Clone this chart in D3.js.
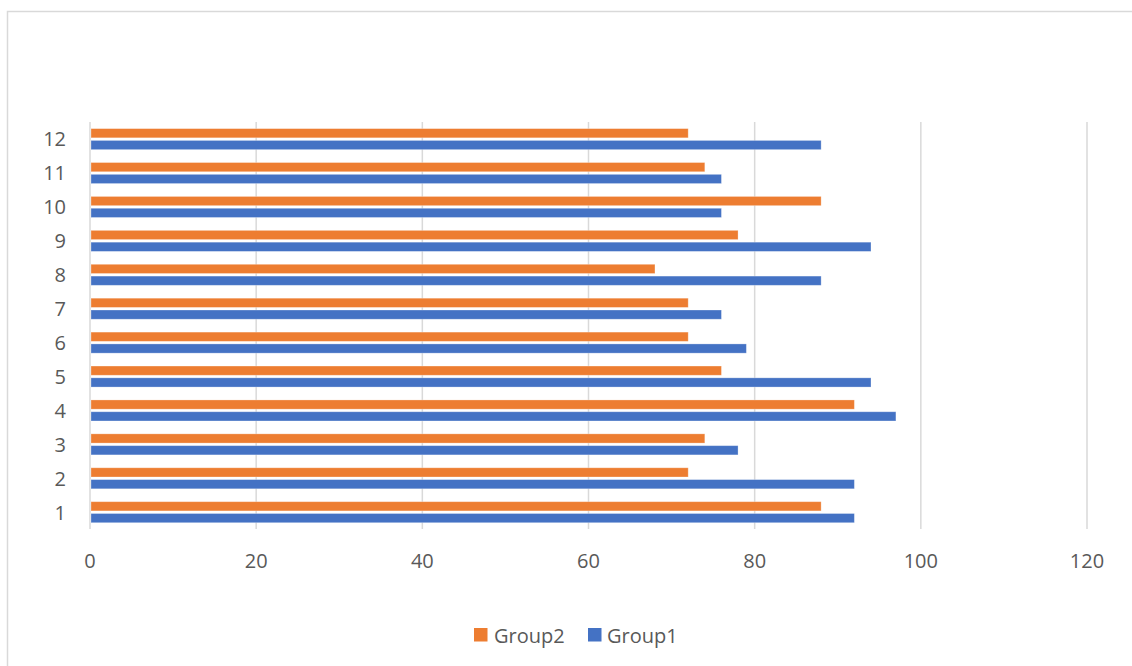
<!DOCTYPE html>
<html>
<head>
<meta charset="utf-8">
<script src="https://cdn.jsdelivr.net/npm/d3@7"></script>
<style>
  html, body { margin: 0; padding: 0; background: #fff; }
  svg { display: block; }
  text { font-family: "Open Sans", "Liberation Sans", sans-serif; fill: #595959; }
</style>
</head>
<body>
<svg id="chart" width="1132" height="666"></svg>
<script>
const categories = ["1","2","3","4","5","6","7","8","9","10","11","12"];
const group1 = [92, 92, 78, 97, 94, 79, 76, 88, 94, 76, 76, 88];
const group2 = [88, 72, 74, 92, 76, 72, 72, 68, 78, 88, 74, 72];
const xTicks = [0, 20, 40, 60, 80, 100, 120];
const seriesNames = ["Group2", "Group1"];
const seriesColors = { Group1: "#4472C4", Group2: "#ED7D31" };

const svg = d3.select("#chart");
const W = 1132, H = 666;

// chart border
svg.append("rect")
  .attr("x", 7.5).attr("y", 11.5)
  .attr("width", W + 20).attr("height", H + 20)
  .attr("fill", "#fff").attr("stroke", "#D9D9D9").attr("stroke-width", 1.5);

const plot = { left: 90, right: 1087, top: 122, bottom: 529 };

const x = d3.scaleLinear().domain([0, 120]).range([plot.left, plot.right]);
const y = d3.scaleBand().domain(categories.slice().reverse()).range([plot.top, plot.bottom]);
const bw = y.bandwidth();
const inner = d3.scaleBand().domain(seriesNames).range([bw * 0.195, bw * 0.815]).paddingInner(0.22);

// gridlines
svg.append("g").selectAll("line").data(xTicks).join("line")
  .attr("x1", d => x(d)).attr("x2", d => x(d))
  .attr("y1", plot.top).attr("y2", plot.bottom)
  .attr("stroke", "#D9D9D9").attr("stroke-width", 1.5);

const data = categories.map((c, i) => ({ cat: c, Group1: group1[i], Group2: group2[i] }));

const gBars = svg.append("g");
data.forEach(d => {
  seriesNames.forEach(s => {
    gBars.append("rect")
      .attr("x", x(0) + 1)
      .attr("y", y(d.cat) + inner(s))
      .attr("width", x(d[s]) - x(0) - 1)
      .attr("height", inner.bandwidth())
      .attr("fill", seriesColors[s])
      .attr("stroke", "#fff").attr("stroke-opacity", 0.35).attr("stroke-width", 0.8);
  });
});

// y axis labels
svg.append("g").selectAll("text").data(categories).join("text")
  .attr("x", 66)
  .attr("y", d => y(d) + bw / 2)
  .attr("text-anchor", "end")
  .attr("dominant-baseline", "central")
  .style("font-size", "20px")
  .text(d => d);

// x axis labels
svg.append("g").selectAll("text").data(xTicks).join("text")
  .attr("x", d => x(d))
  .attr("y", 560)
  .attr("text-anchor", "middle")
  .attr("dominant-baseline", "central")
  .style("font-size", "20px")
  .text(d => d);

// legend
const legend = [
  { name: "Group2", sx: 474, tx: 494 },
  { name: "Group1", sx: 588, tx: 607 }
];
const lg = svg.append("g");
legend.forEach(l => {
  lg.append("rect").attr("x", l.sx).attr("y", 628).attr("width", 13.5).attr("height", 13.5)
    .attr("fill", seriesColors[l.name]);
  lg.append("text").attr("x", l.tx).attr("y", 635)
    .attr("dominant-baseline", "central")
    .style("font-size", "20px")
    .text(l.name);
});
</script>
</body>
</html>
